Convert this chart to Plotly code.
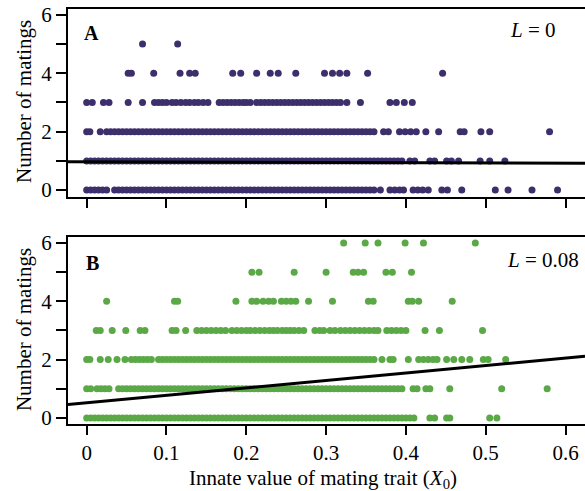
import plotly.graph_objects as go

# ---------------- data ----------------
# Panel A (L = 0): x values of individuals at each number of matings
a_row0 = [0.000, 0.005, 0.010, 0.015, 0.020, 0.025,
          0.035, 0.040, 0.045, 0.050, 0.055, 0.060, 0.065, 0.070, 0.075, 0.080, 0.085, 0.090, 0.095,
          0.100, 0.105, 0.110, 0.115, 0.120, 0.125, 0.130, 0.135, 0.140, 0.145, 0.150, 0.155, 0.160,
          0.165, 0.170, 0.175, 0.180, 0.185, 0.190, 0.195, 0.200, 0.205, 0.210, 0.215, 0.220, 0.225,
          0.230, 0.235, 0.240, 0.245, 0.250, 0.255, 0.260, 0.265, 0.270, 0.275, 0.280, 0.285, 0.290,
          0.295, 0.300, 0.305, 0.310, 0.315, 0.320, 0.325, 0.330, 0.335, 0.340, 0.345, 0.350, 0.355,
          0.360, 0.368, 0.380, 0.386, 0.392, 0.397, 0.409, 0.415, 0.421, 0.428, 0.445, 0.452, 0.470,
          0.512, 0.528, 0.558, 0.590]
a_row1 = [0.000, 0.005, 0.010, 0.015, 0.020, 0.025, 0.030, 0.035, 0.040, 0.045, 0.050, 0.055, 0.060,
          0.065, 0.070, 0.075, 0.080, 0.085, 0.090, 0.095, 0.100, 0.105, 0.110, 0.115, 0.120, 0.125,
          0.130, 0.135, 0.140, 0.145, 0.150, 0.155, 0.160, 0.165, 0.170, 0.175, 0.180, 0.185, 0.190,
          0.195, 0.200, 0.205, 0.210, 0.215, 0.220, 0.225, 0.230, 0.235, 0.240, 0.245, 0.250, 0.255,
          0.260, 0.265, 0.270, 0.275, 0.280, 0.285, 0.290, 0.295, 0.300, 0.305, 0.310, 0.315, 0.320,
          0.325, 0.330, 0.335, 0.340, 0.345, 0.350, 0.355, 0.360, 0.365, 0.370, 0.375, 0.380, 0.385,
          0.390, 0.395, 0.405, 0.411, 0.430, 0.436, 0.451, 0.457, 0.466, 0.493, 0.505, 0.524]
a_row2 = [0.000, 0.004, 0.017,
          0.025, 0.030, 0.035, 0.040, 0.045, 0.050, 0.055, 0.060, 0.065, 0.070, 0.075, 0.080, 0.085,
          0.090, 0.095, 0.100, 0.105, 0.110, 0.115, 0.120, 0.125, 0.130, 0.135, 0.140, 0.145, 0.150,
          0.155, 0.160, 0.165, 0.170, 0.175, 0.180, 0.185, 0.190, 0.195, 0.200, 0.205, 0.210, 0.215,
          0.220, 0.225, 0.230, 0.235, 0.240, 0.245, 0.250, 0.255, 0.260, 0.265, 0.270, 0.275, 0.280,
          0.285, 0.290, 0.295, 0.300, 0.305, 0.310, 0.315, 0.320, 0.325, 0.330, 0.335, 0.340, 0.345,
          0.350, 0.355, 0.360, 0.372, 0.378, 0.392, 0.399, 0.406, 0.413, 0.425, 0.441, 0.468, 0.473,
          0.494, 0.505, 0.580]
a_row3 = [0.000, 0.007, 0.021, 0.028, 0.052, 0.070,
          0.085, 0.090, 0.095, 0.100, 0.107, 0.112, 0.118, 0.124, 0.129, 0.135, 0.140, 0.146, 0.152,
          0.166, 0.171, 0.176, 0.181, 0.186, 0.191, 0.196, 0.200, 0.205, 0.213,
          0.218, 0.223, 0.228, 0.233, 0.238, 0.243, 0.248, 0.253, 0.258, 0.263, 0.268, 0.273, 0.278,
          0.283, 0.288, 0.293, 0.298, 0.303, 0.308, 0.313, 0.318, 0.326,
          0.343, 0.380, 0.388, 0.398, 0.408]
a_row4 = [0.052, 0.056, 0.084, 0.117, 0.129, 0.136, 0.183, 0.193, 0.213, 0.230, 0.240, 0.262,
          0.298, 0.308, 0.317, 0.326, 0.352, 0.446]
a_row5 = [0.070, 0.114]

# Panel B (L = 0.08)
b_row0 = [0.000, 0.005, 0.010, 0.015, 0.020, 0.025, 0.030, 0.035, 0.040, 0.045, 0.050, 0.055, 0.060,
          0.065, 0.070, 0.075, 0.080, 0.085, 0.090, 0.095, 0.100, 0.105, 0.110, 0.115, 0.120, 0.125,
          0.130, 0.135, 0.140, 0.145, 0.150, 0.155, 0.160, 0.165, 0.170, 0.175, 0.180, 0.185, 0.190,
          0.195, 0.200, 0.205, 0.210, 0.215, 0.220, 0.225, 0.230, 0.235, 0.240, 0.245, 0.250, 0.255,
          0.260, 0.265, 0.270, 0.275, 0.280, 0.285, 0.290, 0.295, 0.300, 0.305, 0.310, 0.315, 0.320,
          0.325, 0.330, 0.335, 0.340, 0.345, 0.350, 0.355, 0.360, 0.365, 0.370, 0.375, 0.380, 0.385,
          0.390, 0.395, 0.400, 0.405, 0.410, 0.430, 0.436, 0.451, 0.455, 0.505, 0.514]
b_row1 = [0.000, 0.005, 0.013, 0.018, 0.023, 0.028,
          0.040, 0.045, 0.050, 0.055, 0.060, 0.065, 0.070, 0.075, 0.080, 0.085, 0.090, 0.095, 0.100,
          0.105, 0.110, 0.115, 0.120, 0.125, 0.130, 0.135, 0.140, 0.145, 0.150, 0.155, 0.160, 0.165,
          0.170, 0.175, 0.180, 0.185, 0.190, 0.195, 0.200, 0.205, 0.210, 0.215, 0.220, 0.225, 0.230,
          0.235, 0.240, 0.245, 0.250, 0.255, 0.260, 0.265, 0.270, 0.275, 0.280, 0.285, 0.290, 0.295,
          0.300, 0.305, 0.310, 0.315, 0.320, 0.325, 0.330, 0.335, 0.340, 0.345, 0.350, 0.355, 0.360,
          0.365, 0.370, 0.375, 0.380, 0.385, 0.390, 0.395, 0.409, 0.414, 0.425, 0.430, 0.455, 0.520,
          0.577]
b_row2 = [0.000, 0.004, 0.017, 0.027, 0.038, 0.048, 0.056, 0.061, 0.066, 0.071, 0.076, 0.081,
          0.090, 0.095, 0.100, 0.105, 0.110, 0.115, 0.120, 0.125, 0.130, 0.135, 0.140, 0.145, 0.150,
          0.155, 0.160, 0.165, 0.170, 0.175, 0.180, 0.185, 0.190, 0.195, 0.200, 0.205, 0.210, 0.215,
          0.220, 0.225, 0.230, 0.235, 0.240, 0.245, 0.250, 0.255, 0.260, 0.265, 0.270, 0.275, 0.280,
          0.285, 0.290, 0.295, 0.300, 0.305, 0.310, 0.315, 0.320, 0.325, 0.330, 0.335, 0.340, 0.345,
          0.350, 0.355, 0.360, 0.370, 0.380, 0.384, 0.403, 0.416, 0.422, 0.428, 0.434, 0.439, 0.451,
          0.460, 0.470, 0.480, 0.497, 0.503, 0.525]
b_row3 = [0.012, 0.017, 0.032, 0.049, 0.067, 0.073, 0.107, 0.112, 0.124,
          0.138, 0.144, 0.150, 0.156, 0.162, 0.168, 0.174, 0.182, 0.188, 0.194, 0.200, 0.205, 0.211,
          0.217, 0.223, 0.229, 0.234, 0.239, 0.245, 0.250, 0.255, 0.260, 0.266, 0.272,
          0.286, 0.292, 0.297, 0.305, 0.311, 0.318, 0.324, 0.330, 0.336, 0.342, 0.348, 0.354, 0.360,
          0.365, 0.376, 0.382, 0.388, 0.394, 0.400, 0.424, 0.442, 0.496]
b_row4 = [0.025, 0.110, 0.114, 0.187, 0.207, 0.213, 0.221, 0.228, 0.234, 0.244, 0.250, 0.256,
          0.262, 0.278, 0.308, 0.353, 0.359, 0.403, 0.408, 0.416, 0.458]
b_row5 = [0.207, 0.216, 0.260, 0.300, 0.334, 0.340, 0.347, 0.375, 0.383, 0.407]
b_row6 = [0.322, 0.349, 0.365, 0.399, 0.422, 0.487]

# regression fits (intercept, slope)
a_fit = [0.97, -0.08]
b_fit = [0.52, 2.55]

x_range = [-0.0234, 0.6244]
y_ticks = [0, 2, 4, 6]
y_minor_ticks = [1, 3, 5]
x_ticks = [0, 0.1, 0.2, 0.3, 0.4, 0.5, 0.6]
x_ticklabels = ["0", "0.1", "0.2", "0.3", "0.4", "0.5", "0.6"]

# ---------------- figure ----------------
FONT = "Liberation Serif"
PURPLE = "#3d2f6b"
GREEN = "#5aa846"


def stack(rows):
    xs, ys = [], []
    for level, row in enumerate(rows):
        xs += row
        ys += [level] * len(row)
    return xs, ys


ax, ay = stack([a_row0, a_row1, a_row2, a_row3, a_row4, a_row5])
bx, by = stack([b_row0, b_row1, b_row2, b_row3, b_row4, b_row5, b_row6])

fig = go.Figure()
fig.add_trace(go.Scatter(x=ax, y=ay, mode="markers", xaxis="x2", yaxis="y2",
                         marker=dict(size=7, color=PURPLE), hoverinfo="skip"))
fig.add_trace(go.Scatter(x=x_range, y=[a_fit[0] + a_fit[1] * v for v in x_range],
                         mode="lines", xaxis="x2", yaxis="y2",
                         line=dict(color="black", width=3), hoverinfo="skip"))
fig.add_trace(go.Scatter(x=bx, y=by, mode="markers", xaxis="x", yaxis="y",
                         marker=dict(size=7, color=GREEN), hoverinfo="skip"))
fig.add_trace(go.Scatter(x=x_range, y=[b_fit[0] + b_fit[1] * v for v in x_range],
                         mode="lines", xaxis="x", yaxis="y",
                         line=dict(color="black", width=3), hoverinfo="skip"))

common_x = dict(range=x_range, showgrid=False, zeroline=False, showline=True, linecolor="black",
                linewidth=2, mirror=True, ticks="outside", ticklen=9, tickwidth=1.5,
                tickcolor="black", tickvals=x_ticks, ticktext=x_ticklabels, automargin=False,
                tickfont=dict(family=FONT, size=21, color="black"))
common_y = dict(showgrid=False, zeroline=False, showline=True, linecolor="black", linewidth=2,
                mirror=False, ticks="outside", ticklen=10, tickwidth=1.5, tickcolor="black",
                tickvals=y_ticks, automargin=False,
                minor=dict(tickvals=y_minor_ticks, ticks="outside", ticklen=10, tickwidth=1.5,
                           tickcolor="black", showgrid=False),
                tickfont=dict(family=FONT, size=21, color="black"))

TITLE_FONT = dict(family=FONT, size=21, color="black")

fig.update_layout(
    width=585, height=491,
    margin=dict(l=68, r=0, t=9, b=67),
    paper_bgcolor="white", plot_bgcolor="white",
    showlegend=False,
    font=dict(family=FONT, size=21, color="black"),
    xaxis=dict(common_x, domain=[0, 1], anchor="y"),
    xaxis2=dict(common_x, domain=[0, 1], anchor="y2", matches="x", showticklabels=False),
    yaxis=dict(common_y, domain=[0, 0.45], range=[-0.21, 6.2], anchor="x"),
    yaxis2=dict(common_y, domain=[0.546, 1.0], range=[-0.25, 6.2], anchor="x2"),
    annotations=[
        dict(text="Innate value of mating trait (<i>X</i><sub>0</sub>)", xref="paper",
             yref="paper", x=0.493, y=-0.1325, xanchor="center", yanchor="middle",
             showarrow=False, font=TITLE_FONT),
        dict(text="Number of matings", xref="paper", yref="paper", x=-0.085, y=0.776,
             xanchor="center", yanchor="middle", textangle=-90, showarrow=False, font=TITLE_FONT),
        dict(text="Number of matings", xref="paper", yref="paper", x=-0.085, y=0.2265,
             xanchor="center", yanchor="middle", textangle=-90, showarrow=False, font=TITLE_FONT),
        dict(text="<b>A</b>", xref="paper", yref="paper", x=0.027, y=0.942, xanchor="left",
             yanchor="middle", showarrow=False, font=dict(family=FONT, size=20)),
        dict(text="<b>B</b>", xref="paper", yref="paper", x=0.030, y=0.389, xanchor="left",
             yanchor="middle", showarrow=False, font=dict(family=FONT, size=20)),
        dict(text="<i>L</i> = 0", xref="paper", yref="paper", x=0.947, y=0.949, xanchor="right",
             yanchor="middle", showarrow=False, font=dict(family=FONT, size=21)),
        dict(text="<i>L</i> = 0.08", xref="paper", yref="paper", x=0.992, y=0.395,
             xanchor="right", yanchor="middle", showarrow=False, font=dict(family=FONT, size=21)),
    ],
)

# remove the default 8px page margin so the figure fills the 585x491 window exactly
fig.write_html(
    "out.html",
    config={"displayModeBar": False},
    post_script=("document.body.style.margin='0';"
                 "document.body.style.overflow='hidden';"
                 "document.documentElement.style.overflow='hidden';"),
)
